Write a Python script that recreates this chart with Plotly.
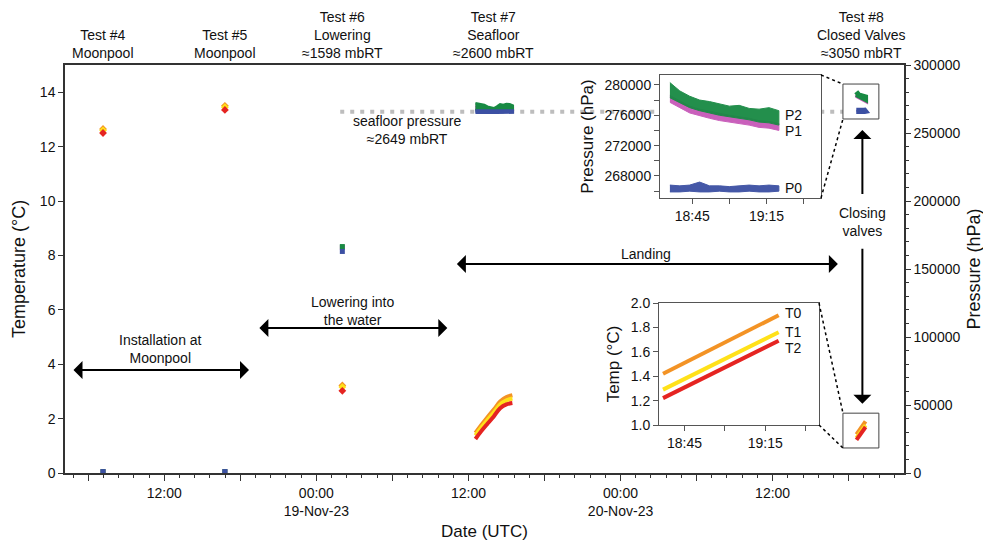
import pandas as pd
import plotly.graph_objects as go

FONT = "Liberation Sans, Arial, sans-serif"

# ---------------- axis ranges ----------------
X_RANGE = ["2023-11-18 04:10", "2023-11-20 22:22"]
T_RANGE = [0, 15]
P_RANGE = [0, 300000]

# ---------------- Tests 4, 5, 6 (single readings) ----------------
pt_time = ["2023-11-18 07:10", "2023-11-18 16:47", "2023-11-19 02:03"]
pt_T0 = [12.65, 13.50, 3.22]
pt_T1 = [12.60, 13.45, 3.16]
pt_T2 = [12.50, 13.35, 3.02]
pt_P0 = [1013, 1013, 162900]
pt_P1 = [1013, 1013, 165800]
pt_P2 = [1013, 1013, 166500]

# ---------------- Test 7 (seafloor) ----------------
t7_time = ["2023-11-19 12:33", "2023-11-19 13:00", "2023-11-19 13:30", "2023-11-19 14:00",
           "2023-11-19 14:30", "2023-11-19 15:00", "2023-11-19 15:28"]
t7_T0 = [1.47, 1.76, 2.05, 2.33, 2.63, 2.79, 2.86]
t7_T1 = [1.38, 1.66, 1.95, 2.22, 2.52, 2.67, 2.74]
t7_T2 = [1.25, 1.53, 1.81, 2.08, 2.38, 2.52, 2.57]

p7_time = ["2023-11-19 12:33", "2023-11-19 13:00", "2023-11-19 13:15", "2023-11-19 13:30",
           "2023-11-19 13:45", "2023-11-19 14:00", "2023-11-19 14:15", "2023-11-19 14:30",
           "2023-11-19 14:45", "2023-11-19 15:00", "2023-11-19 15:15", "2023-11-19 15:30"]
p7_P2_hi = [271800, 271300, 270600, 269400, 268700, 268200, 269400, 271100, 270600, 271300, 271100, 270100]
p7_P2_lo = [267000, 267000, 266900, 267000, 266900, 266900, 267000, 266900, 267000, 267000, 266900, 267000]
p7_P1_hi = [269800, 269500, 269000, 268200, 267800, 267600, 268200, 269300, 269000, 269500, 269300, 268800]
p7_P1_lo = [267000, 267000, 266900, 267000, 266900, 266900, 267000, 266900, 267000, 267000, 266900, 267000]
p7_P0_hi = [266600, 266500, 266600, 266500, 266600, 266500, 266500, 266600, 266500, 266600, 266500, 266600]
p7_P0_lo = [264900, 265000, 264900, 265000, 264900, 265000, 264900, 265000, 264900, 265000, 264900, 265000]

# ---------------- Test 8 (closed valves) ----------------
p8_time = ["2023-11-20 18:36", "2023-11-20 18:40", "2023-11-20 18:44", "2023-11-20 18:48",
           "2023-11-20 18:52", "2023-11-20 18:56", "2023-11-20 19:00", "2023-11-20 19:04",
           "2023-11-20 19:08", "2023-11-20 19:12", "2023-11-20 19:16", "2023-11-20 19:20"]
p8_P2_hi = [280300, 279200, 278500, 278000, 277800, 277500, 277200, 277300, 276900, 276800, 277000, 276600]
p8_P2_lo = [278300, 277700, 277000, 276600, 276300, 276000, 275800, 275600, 275400, 275100, 275000, 274700]
p8_P1_hi = [278600, 277900, 277200, 276800, 276500, 276200, 276000, 275800, 275600, 275300, 275200, 274900]
p8_P1_lo = [277700, 277000, 276300, 275900, 275600, 275300, 275100, 274900, 274700, 274400, 274300, 274000]
p8_P0_hi = [266800, 266700, 266800, 267200, 266700, 266700, 266600, 266700, 266800, 266700, 266800, 266700]
p8_P0_lo = [265900, 265900, 266000, 265900, 265900, 266000, 265900, 265900, 266000, 265900, 265900, 266000]

t8_time = ["2023-11-20 18:37", "2023-11-20 19:20"]
t8_T0 = [1.42, 1.90]
t8_T1 = [1.29, 1.76]
t8_T2 = [1.22, 1.69]

# seafloor reference
seafloor_time = ["2023-11-19 01:53", "2023-11-20 17:33"]
seafloor_P = 265700

# inset ranges
PI_X = ["2023-11-20 18:32", "2023-11-20 19:37"]
PI_Y = [265100, 281300]
TI_X = ["2023-11-20 18:35:30", "2023-11-20 19:35"]
TI_Y = [1.0, 2.0]

# zoom boxes around Test 8
BOX_T = ["2023-11-20 17:33", "2023-11-20 20:23"]
BOX_P = [260300, 286000]
BOX_TEMP = [0.92, 2.2]

# tick labels
x_tickvals = ["2023-11-18 06:00", "2023-11-18 12:00", "2023-11-18 18:00", "2023-11-19 00:00",
              "2023-11-19 06:00", "2023-11-19 12:00", "2023-11-19 18:00", "2023-11-20 00:00",
              "2023-11-20 06:00", "2023-11-20 12:00", "2023-11-20 18:00"]
x_ticktext = ["", "12:00", "", "00:00<br>19-Nov-23", "", "12:00", "", "00:00<br>20-Nov-23", "", "12:00", ""]
in_tickvals = ["2023-11-20 18:45", "2023-11-20 19:00", "2023-11-20 19:15", "2023-11-20 19:30"]
in_ticktext = ["18:45", "", "19:15", ""]
pi_tickvals = [266000, 268000, 270000, 272000, 274000, 276000, 278000, 280000]
pi_ticktext = ["", "268000", "", "272000", "", "276000", "", "280000"]

C_T0, C_T1, C_T2 = "#F39325", "#FFE119", "#E52421"
C_P0, C_P1, C_P2 = "#3C50A3", "#C758B8", "#188A43"

fig = go.Figure()


def band(times, hi, lo):
    return list(times) + list(times[::-1]), list(hi) + list(lo[::-1])


# seafloor dotted line
fig.add_trace(go.Scatter(x=seafloor_time, y=[seafloor_P, seafloor_P], mode="lines",
                         line=dict(color="#BDBDBD", width=4, dash="4px,6px"),
                         xaxis="x", yaxis="y2", hoverinfo="skip"))

# pressure - main plot
for name, col, pts in [("P1", C_P1, pt_P1), ("P2", C_P2, pt_P2), ("P0", C_P0, pt_P0)]:
    fig.add_trace(go.Scatter(x=pt_time, y=pts, mode="markers",
                             marker=dict(symbol="square", size=5, color=col),
                             xaxis="x", yaxis="y2"))
for col, hi, lo in [(C_P1, p7_P1_hi, p7_P1_lo), (C_P2, p7_P2_hi, p7_P2_lo), (C_P0, p7_P0_hi, p7_P0_lo)]:
    bx, by = band(p7_time, hi, lo)
    fig.add_trace(go.Scatter(x=bx, y=by, mode="lines", fill="toself", fillcolor=col,
                             line=dict(color=col, width=2.5), xaxis="x", yaxis="y2"))
for col, hi, lo in [(C_P1, p8_P1_hi, p8_P1_lo), (C_P2, p8_P2_hi, p8_P2_lo), (C_P0, p8_P0_hi, p8_P0_lo)]:
    bx, by = band(p8_time, hi, lo)
    fig.add_trace(go.Scatter(x=bx, y=by, mode="lines", fill="toself", fillcolor=col,
                             line=dict(color=col, width=5), xaxis="x", yaxis="y2"))

# temperature - main plot
for col, pts, l7, l8 in [(C_T0, pt_T0, t7_T0, t8_T0), (C_T1, pt_T1, t7_T1, t8_T1), (C_T2, pt_T2, t7_T2, t8_T2)]:
    fig.add_trace(go.Scatter(x=pt_time, y=pts, mode="markers",
                             marker=dict(symbol="diamond", size=6, color=col),
                             xaxis="x", yaxis="y"))
    fig.add_trace(go.Scatter(x=t7_time, y=l7, mode="lines", line=dict(color=col, width=4, shape="spline"),
                             xaxis="x", yaxis="y"))
    fig.add_trace(go.Scatter(x=t8_time, y=l8, mode="lines", line=dict(color=col, width=4),
                             xaxis="x", yaxis="y"))

# pressure inset
for col, hi, lo in [(C_P1, p8_P1_hi, p8_P1_lo), (C_P2, p8_P2_hi, p8_P2_lo), (C_P0, p8_P0_hi, p8_P0_lo)]:
    bx, by = band(p8_time, hi, lo)
    fig.add_trace(go.Scatter(x=bx, y=by, mode="lines", fill="toself", fillcolor=col,
                             line=dict(color=col, width=1), opacity=0.95, xaxis="x2", yaxis="y3"))

# temperature inset
for col, l8 in [(C_T0, t8_T0), (C_T1, t8_T1), (C_T2, t8_T2)]:
    fig.add_trace(go.Scatter(x=t8_time, y=l8, mode="lines", line=dict(color=col, width=4),
                             xaxis="x3", yaxis="y4"))

# ---------------- layout ----------------
# page body has an 8px margin, so the figure is drawn at (8, 8)
OFF = 8
W, H = 991 - OFF, 541 - OFF
PL, PR, PT, PB = 65, 904, 65, 473       # plot area in window pixels
L, R, T, B = PL - OFF, 991 - PR, PT - OFF, 541 - PB
pw, ph = PR - PL, PB - PT


def px_x(px):
    return (px - PL) / pw


def px_y(py):
    return (PB - py) / ph


PI_DOM_X = [px_x(660), px_x(821)]
PI_DOM_Y = [px_y(198), px_y(75)]
TI_DOM_X = [px_x(659), px_x(819)]
TI_DOM_Y = [px_y(425), px_y(303)]

x0, x1 = pd.Timestamp(X_RANGE[0]), pd.Timestamp(X_RANGE[1])


def xp(t):
    return (pd.Timestamp(t) - x0) / (x1 - x0)


axis_common = dict(showgrid=False, zeroline=False, showline=True, linecolor="#333", linewidth=1.5,
                   ticks="outside", tickcolor="#333", tickfont=dict(size=14, color="#111"))
inset_common = dict(showgrid=False, zeroline=False, showline=True, mirror=True, linecolor="#555",
                    linewidth=1, ticks="outside", tickcolor="#555", ticklen=5,
                    tickfont=dict(size=14, color="#111"))

fig.update_layout(
    width=W, height=H, template="none",
    margin=dict(l=L, r=R, t=T, b=B),
    paper_bgcolor="white", plot_bgcolor="white",
    font=dict(family=FONT, size=14, color="#111"),
    showlegend=False,
    xaxis=dict(**axis_common, type="date", range=X_RANGE, mirror=True, ticklen=6,
               tickvals=x_tickvals, ticktext=x_ticktext,
               minor=dict(ticks="outside", ticklen=3, tickcolor="#333", dtick=1.2 * 3600 * 1000,
                          tick0="2023-11-18 12:00"),
               title=dict(text="Date (UTC)", font=dict(size=17), standoff=10)),
    yaxis=dict(**axis_common, range=T_RANGE, tickvals=[0, 2, 4, 6, 8, 10, 12, 14], ticklen=5,
               title=dict(text="Temperature (°C)", font=dict(size=18), standoff=10)),
    yaxis2=dict(**axis_common, range=P_RANGE, overlaying="y", side="right", anchor="x",
                dtick=50000, tickformat="d", ticklen=5,
                minor=dict(ticks="outside", ticklen=3, tickcolor="#333", dtick=10000),
                title=dict(text="Pressure (hPa)", font=dict(size=18), standoff=8)),
    xaxis2=dict(**inset_common, type="date", range=PI_X, domain=PI_DOM_X, anchor="y3",
                tickvals=in_tickvals, ticktext=in_ticktext),
    yaxis3=dict(**inset_common, range=PI_Y, domain=PI_DOM_Y, anchor="x2",
                tickvals=pi_tickvals, ticktext=pi_ticktext,
                title=dict(text="Pressure (hPa)", font=dict(size=17), standoff=6)),
    xaxis3=dict(**inset_common, type="date", range=TI_X, domain=TI_DOM_X, anchor="y4",
                tickvals=in_tickvals, ticktext=in_ticktext),
    yaxis4=dict(**inset_common, range=TI_Y, domain=TI_DOM_Y, anchor="x3",
                tickvals=[1.0, 1.2, 1.4, 1.6, 1.8, 2.0], tickformat=".1f",
                title=dict(text="Temp (°C)", font=dict(size=17), standoff=6)),
)

annotations = []
# test labels on top
test_labels = [
    (pt_time[0], "Test #4<br>Moonpool"),
    (pt_time[1], "Test #5<br>Moonpool"),
    (pt_time[2], "Test #6<br>Lowering<br>≈1598 mbRT"),
    ("2023-11-19 14:00", "Test #7<br>Seafloor<br>≈2600 mbRT"),
    ("2023-11-20 18:58", "Test #8<br>Closed Valves<br>≈3050 mbRT"),
]
for t, txt in test_labels:
    annotations.append(dict(x=t, y=1.0, xref="x", yref="paper", text=txt, showarrow=False,
                            xanchor="center", yanchor="bottom", yshift=2, font=dict(size=14)))

# phase arrows (double-headed)
arrows = [
    ("2023-11-18 04:43", "2023-11-18 18:41", 3.79),
    ("2023-11-18 19:23", "2023-11-19 10:20", 5.33),
    ("2023-11-19 10:58", "2023-11-20 17:09", 7.68),
]
for ta, tb, yv in arrows:
    annotations.append(dict(x=tb, y=yv, ax=ta, ay=yv, xref="x", yref="y", axref="x", ayref="y",
                            text="", showarrow=True, arrowhead=1, startarrowhead=1,
                            arrowside="end+start", arrowsize=1.5, startarrowsize=1.5,
                            arrowwidth=2, arrowcolor="black"))
# closing valves arrows
annotations.append(dict(x="2023-11-20 19:05", y=12.61, ax="2023-11-20 19:05", ay=10.2,
                        xref="x", yref="y", axref="x", ayref="y", text="", showarrow=True,
                        arrowhead=1, arrowsize=1.5, arrowwidth=2, arrowcolor="black"))
annotations.append(dict(x="2023-11-20 19:05", y=2.55, ax="2023-11-20 19:05", ay=8.3,
                        xref="x", yref="y", axref="x", ayref="y", text="", showarrow=True,
                        arrowhead=1, arrowsize=1.5, arrowwidth=2, arrowcolor="black"))

texts = [
    ("2023-11-18 11:40", 4.56, "Installation at<br>Moonpool"),
    ("2023-11-19 02:50", 5.96, "Lowering into<br>the water"),
    ("2023-11-20 02:00", 8.05, "Landing"),
    ("2023-11-20 19:05", 9.23, "Closing<br>valves"),
    ("2023-11-19 07:11", 12.61, "seafloor pressure<br>≈2649 mbRT"),
]
for t, yv, txt in texts:
    annotations.append(dict(x=t, y=yv, xref="x", yref="y", text=txt, showarrow=False,
                            xanchor="center", yanchor="middle", font=dict(size=14)))

# inset series labels
for txt, yv in [("P2", 276000), ("P1", 273900), ("P0", 266400)]:
    annotations.append(dict(x=p8_time[-1], y=yv, xref="x2", yref="y3", text=txt, showarrow=False,
                            xanchor="left", xshift=4, font=dict(size=14)))
for txt, yv in [("T0", 1.92), ("T1", 1.76), ("T2", 1.63)]:
    annotations.append(dict(x=t8_time[-1], y=yv, xref="x3", yref="y4", text=txt, showarrow=False,
                            xanchor="left", xshift=4, font=dict(size=14)))

fig.update_layout(annotations=annotations)

# zoom boxes and dotted connectors
shapes = [
    dict(type="rect", xref="x", yref="y2", x0=BOX_T[0], x1=BOX_T[1], y0=BOX_P[0], y1=BOX_P[1],
         line=dict(color="#444", width=1)),
    dict(type="rect", xref="x", yref="y", x0=BOX_T[0], x1=BOX_T[1], y0=BOX_TEMP[0], y1=BOX_TEMP[1],
         line=dict(color="#444", width=1)),
]
bx0 = xp(BOX_T[0])
pb_top, pb_bot = BOX_P[1] / P_RANGE[1], BOX_P[0] / P_RANGE[1]
tb_top, tb_bot = BOX_TEMP[1] / T_RANGE[1], BOX_TEMP[0] / T_RANGE[1]
for (xa, ya, xb, yb) in [
    (PI_DOM_X[1], PI_DOM_Y[1], bx0, pb_top),
    (PI_DOM_X[1], PI_DOM_Y[0], bx0, pb_bot),
    (TI_DOM_X[1], TI_DOM_Y[1], bx0, tb_top),
    (TI_DOM_X[1], TI_DOM_Y[0], bx0, tb_bot),
]:
    shapes.append(dict(type="line", xref="paper", yref="paper", x0=xa, y0=ya, x1=xb, y1=yb,
                       line=dict(color="black", width=1.5, dash="dot")))
fig.update_layout(shapes=shapes)

fig.write_html("out.html")
